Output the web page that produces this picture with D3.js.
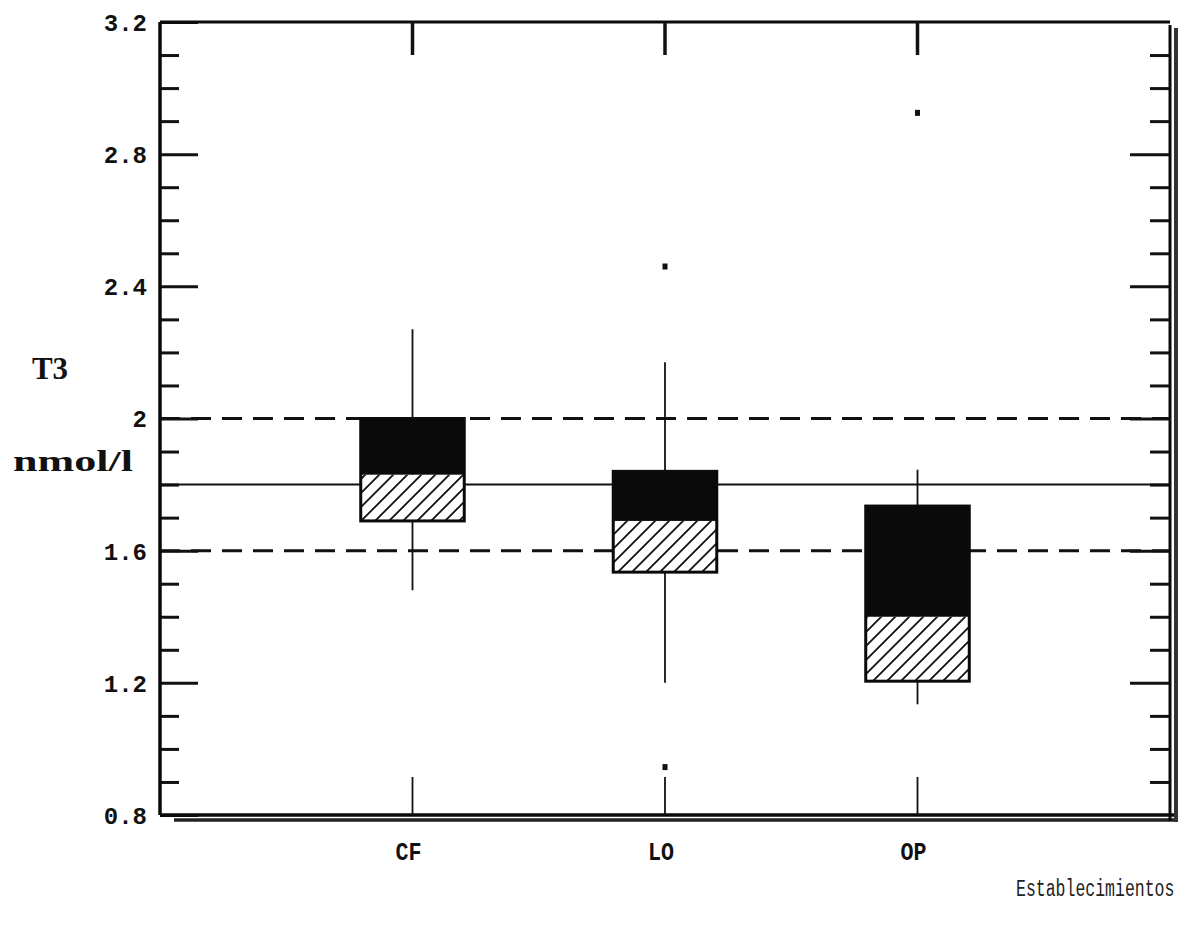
<!DOCTYPE html>
<html>
<head>
<meta charset="utf-8">
<script src="https://cdn.jsdelivr.net/npm/d3@7"></script>
<style>
  body { margin: 0; background: #fff; }
  svg { display: block; }
</style>
</head>
<body>
<svg id="chart" width="1185" height="930"></svg>
<script>
// values
const categories = ["CF", "LO", "OP"];
const q3 = [2.00, 1.84, 1.735];
const medians = [1.83, 1.69, 1.40];
const q1 = [1.69, 1.535, 1.205];
const whiskerHigh = [2.27, 2.17, 1.845];
const whiskerLow = [1.48, 1.20, 1.135];
const outlierCats = ["LO", "LO", "OP"];
const outlierVals = [2.46, 0.945, 2.925];
const dashedRefs = [1.6, 2.0];
const solidRefs = [1.8];
const majorTicks = [0.8, 1.2, 1.6, 2, 2.4, 2.8, 3.2];
const minorTicks = d3.range(8, 33).map(d => d / 10).filter(d => !majorTicks.includes(d));

const margin = { top: 22, right: 15, bottom: 115, left: 160 };
const innerW = 1170 - margin.left;
const innerH = 815 - margin.top;

const svg = d3.select("#chart");
const g = svg.append("g").attr("transform", `translate(${margin.left},${margin.top})`);

const y = d3.scaleLinear().domain([0.8, 3.2]).range([innerH, 0]);
const x = d3.scalePoint().domain(["_l", ...categories, "_r"]).range([0, innerW]);
const boxW = x.step() * 0.41;

// hatch pattern
const defs = svg.append("defs");
const pat = defs.append("pattern")
    .attr("id", "hatch")
    .attr("patternUnits", "userSpaceOnUse")
    .attr("width", 14).attr("height", 14);
pat.append("rect").attr("width", 14).attr("height", 14).attr("fill", "#fff");
pat.append("path")
    .attr("d", "M0,14 L14,0 M-3.5,3.5 L3.5,-3.5 M10.5,17.5 L17.5,10.5")
    .attr("stroke", "#111").attr("stroke-width", 1.8);

// reference lines
g.selectAll(".ref-dash").data(dashedRefs).join("line")
    .attr("class", "ref-dash")
    .attr("x1", 0).attr("x2", innerW)
    .attr("y1", d => y(d)).attr("y2", d => y(d))
    .attr("stroke", "#111").attr("stroke-width", 3)
    .attr("stroke-dasharray", "20,11");

g.selectAll(".ref-solid").data(solidRefs).join("line")
    .attr("class", "ref-solid")
    .attr("x1", 0).attr("x2", innerW)
    .attr("y1", d => y(d)).attr("y2", d => y(d))
    .attr("stroke", "#111").attr("stroke-width", 2);

// whiskers
g.selectAll(".whisker").data(categories).join("line")
    .attr("class", "whisker")
    .attr("x1", d => x(d)).attr("x2", d => x(d))
    .attr("y1", (d, i) => y(whiskerHigh[i]))
    .attr("y2", (d, i) => y(whiskerLow[i]))
    .attr("stroke", "#111").attr("stroke-width", 1.8);

// boxes: black = median..q3, hatched = q1..median
const boxes = g.selectAll(".box").data(categories).join("g").attr("class", "box");

boxes.append("rect")
    .attr("x", d => x(d) - boxW / 2)
    .attr("width", boxW)
    .attr("y", (d, i) => y(medians[i]))
    .attr("height", (d, i) => y(q1[i]) - y(medians[i]))
    .attr("fill", "url(#hatch)");

boxes.append("rect")
    .attr("x", d => x(d) - boxW / 2)
    .attr("width", boxW)
    .attr("y", (d, i) => y(q3[i]))
    .attr("height", (d, i) => y(medians[i]) - y(q3[i]))
    .attr("fill", "#0a0a0a");

boxes.append("rect")
    .attr("x", d => x(d) - boxW / 2)
    .attr("width", boxW)
    .attr("y", (d, i) => y(q3[i]))
    .attr("height", (d, i) => y(q1[i]) - y(q3[i]))
    .attr("fill", "none")
    .attr("stroke", "#0a0a0a").attr("stroke-width", 3);

// outliers
g.selectAll(".outlier").data(outlierVals).join("rect")
    .attr("class", "outlier")
    .attr("x", (d, i) => x(outlierCats[i]) - 2.5)
    .attr("y", d => y(d) - 3)
    .attr("width", 5).attr("height", 6)
    .attr("fill", "#111");

// left axis: inward ticks, labels outside
const fontTick = "'Liberation Mono', 'DejaVu Sans Mono', monospace";
g.append("g")
    .call(d3.axisLeft(y).tickValues(minorTicks).tickSizeInner(-19).tickSizeOuter(0).tickFormat(""))
    .call(a => a.select(".domain").remove())
    .selectAll("line").attr("stroke", "#111").attr("stroke-width", 3);

const leftMajor = g.append("g")
    .call(d3.axisLeft(y).tickValues(majorTicks).tickSizeInner(-38).tickSizeOuter(0)
        .tickPadding(13).tickFormat(d => d === 2 ? "2" : d3.format(".1f")(d)));
leftMajor.select(".domain").remove();
leftMajor.selectAll("line").attr("stroke", "#111").attr("stroke-width", 3);
leftMajor.selectAll("text")
    .attr("fill", "#111")
    .style("font-family", fontTick)
    .style("font-weight", "bold")
    .style("font-size", "24px")
    .attr("dy", "0.35em");

// right axis, ticks pointing inward
const rightAxis = g.append("g").attr("transform", `translate(${innerW},0)`);
rightAxis.append("g")
    .call(d3.axisLeft(y).tickValues(minorTicks).tickSize(20).tickFormat(""))
    .call(a => a.select(".domain").remove())
    .selectAll("line").attr("stroke", "#111").attr("stroke-width", 3);
rightAxis.append("g")
    .call(d3.axisLeft(y).tickValues(majorTicks.slice(1, -1)).tickSize(40).tickFormat(""))
    .call(a => a.select(".domain").remove())
    .selectAll("line").attr("stroke", "#111").attr("stroke-width", 3);

// frame
g.append("line").attr("x1", 0).attr("x2", 0).attr("y1", 0).attr("y2", innerH)
    .attr("stroke", "#0a0a0a").attr("stroke-width", 3.5);
g.append("line").attr("x1", 0).attr("x2", innerW).attr("y1", 0).attr("y2", 0)
    .attr("stroke", "#0a0a0a").attr("stroke-width", 3);
g.append("line").attr("x1", 0).attr("x2", innerW + 4).attr("y1", innerH).attr("y2", innerH)
    .attr("stroke", "#0a0a0a").attr("stroke-width", 3.5);
g.append("line").attr("x1", 14).attr("x2", innerW + 8).attr("y1", innerH + 5).attr("y2", innerH + 5)
    .attr("stroke", "#222").attr("stroke-width", 3.5);
g.append("line").attr("x1", innerW).attr("x2", innerW).attr("y1", 3).attr("y2", innerH + 6)
    .attr("stroke", "#0a0a0a").attr("stroke-width", 3);
g.append("line").attr("x1", innerW + 6).attr("x2", innerW + 6).attr("y1", 6).attr("y2", innerH + 7)
    .attr("stroke", "#333").attr("stroke-width", 4);

// category ticks top and bottom
g.selectAll(".top-tick").data(categories).join("line")
    .attr("class", "top-tick")
    .attr("x1", d => x(d)).attr("x2", d => x(d))
    .attr("y1", 0).attr("y2", 33)
    .attr("stroke", "#111").attr("stroke-width", 3.5);
g.selectAll(".bot-tick").data(categories).join("line")
    .attr("class", "bot-tick")
    .attr("x1", d => x(d)).attr("x2", d => x(d))
    .attr("y1", innerH - 38).attr("y2", innerH)
    .attr("stroke", "#111").attr("stroke-width", 1.8);

// category labels
g.selectAll(".cat-label").data(categories).join("text")
    .attr("class", "cat-label")
    .attr("x", d => x(d) - 4)
    .attr("y", innerH + 45)
    .attr("text-anchor", "middle")
    .attr("fill", "#111")
    .style("font-family", fontTick)
    .style("font-weight", "bold")
    .style("font-size", "25px")
    .attr("textLength", 26)
    .attr("lengthAdjust", "spacingAndGlyphs")
    .text(d => d);

// y title
svg.append("text")
    .attr("x", 50).attr("y", 379)
    .attr("text-anchor", "middle")
    .attr("fill", "#111")
    .style("font-family", "'Liberation Serif', serif")
    .style("font-weight", "bold")
    .style("font-size", "31px")
    .text("T3");
svg.append("text")
    .attr("x", 13).attr("y", 471)
    .attr("fill", "#111")
    .style("font-family", "'Liberation Serif', serif")
    .style("font-weight", "bold")
    .style("font-size", "30px")
    .attr("textLength", 120)
    .attr("lengthAdjust", "spacingAndGlyphs")
    .text("nmol/l");

// x title (typewriter look: narrow, tall)
svg.append("text")
    .attr("transform", "translate(1016,896) scale(1,1.45)")
    .attr("fill", "#222")
    .style("font-family", "'Liberation Mono', 'Courier New', monospace")
    .style("font-size", "16.5px")
    .text("Establecimientos");
</script>
</body>
</html>
